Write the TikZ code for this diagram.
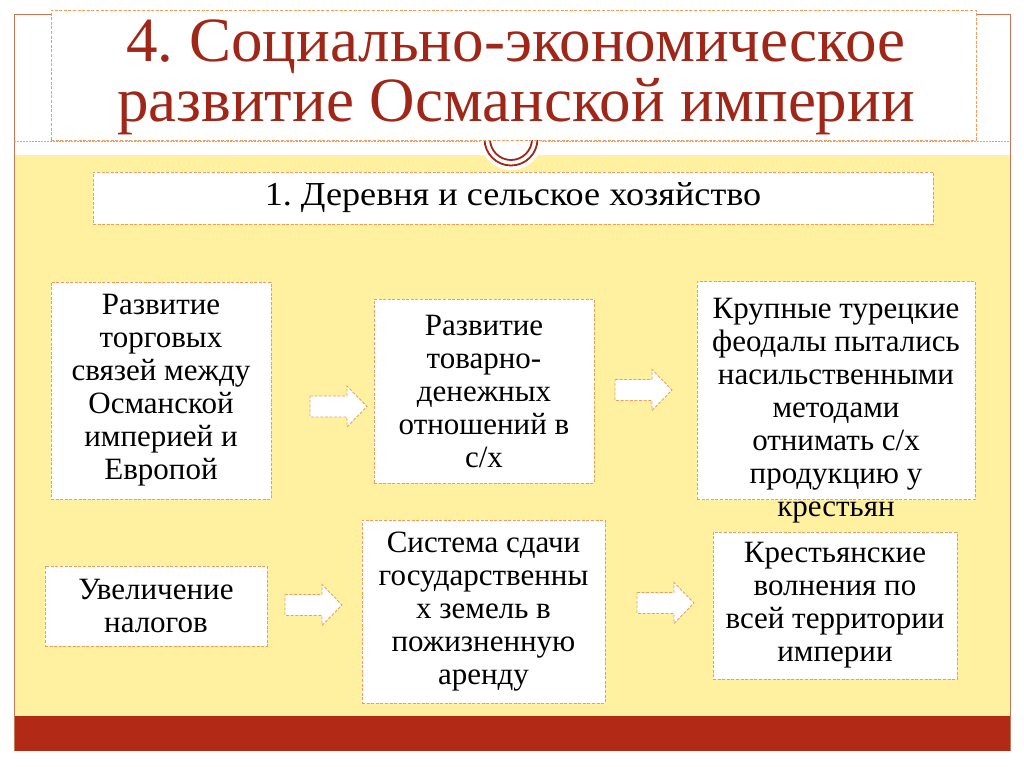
\documentclass[tikz,border=0pt]{standalone}
\usepackage{fontspec}
\setmainfont{Liberation Serif}
\newfontfamily\titlefont{Liberation Serif}
\newfontfamily\bodyfont{Liberation Serif}
\newfontfamily\subfont[FakeStretch=1.08]{Liberation Serif}
\frenchspacing
\definecolor{bgyellow}{RGB}{255,241,160}
\definecolor{stripered}{RGB}{178,42,22}
\definecolor{titlered}{RGB}{160,38,24}
\definecolor{dashorange}{RGB}{238,158,92}
\definecolor{framebrown}{RGB}{196,120,90}
\tikzset{
  dbox/.style={draw=dashorange, fill=white, line width=0.9pt, dash pattern=on 3pt off 1.6pt, inner sep=0pt},
  btext/.style={font={\bodyfont\fontsize{31}{33}\selectfont}, align=center, text=black},
  arrowbox/.style={draw=dashorange, fill=white, line width=0.9pt, dash pattern=on 3pt off 1.6pt, line join=miter},
  pics/blockarrow/.style={code={
    \draw[arrowbox] (0,-10.5) -- (37,-10.5) -- (37,-20.5) -- (57,0) -- (37,20.5) -- (37,10.5) -- (0,10.5) -- cycle;
  }}
}
\begin{document}
\begin{tikzpicture}[x=1pt,y=-1pt]
\useasboundingbox (0,0) rectangle (1024,767);
\fill[white] (0,0) rectangle (1024,767);
% background bands
\fill[bgyellow] (14,155) rectangle (1010,716);
\fill[stripered] (14,716) rectangle (1010,751);
\draw[framebrown, line width=1pt] (14,751) -- (14,15) -- (1010,15) -- (1010,751);
\draw[dashorange, line width=1pt, dash pattern=on 2pt off 1pt] (14,142) -- (1010,142);
% ornament
\fill[white] (511,139) circle (31);
\draw[titlered, line width=1.8pt] (511,139) circle (26.5);
\draw[titlered, line width=1.8pt] (511,139) circle (21);
% title
\node[dbox, minimum width=925pt, minimum height=130pt] (title) at (513.5,75) {};
\node[font={\titlefont\fontsize{63}{60}\selectfont}, text=titlered, align=center, inner sep=0pt] (titletext) at (516,77)
  {4. Социально-экономическое\\развитие Османской империи};
% subtitle
\node[dbox, minimum width=840pt, minimum height=52pt, font={\subfont\fontsize{33.5}{36}\selectfont}] (sub) at (513,198)
  {1. Деревня и сельское хозяйство};
% boxes
\node[dbox, btext, minimum width=220pt, minimum height=217pt] (A) at (161,390.5)
  {Развитие\\торговых\\связей между\\Османской\\империей и\\Европой};
\node[dbox, btext, minimum width=220pt, minimum height=184pt] (B) at (484,391)
  {Развитие\\товарно-\\денежных\\отношений в\\с/х};
\node[dbox, minimum width=278pt, minimum height=218pt] (C) at (836,390.5) {};
\node[btext, inner sep=0pt] (Ctext) at (836,411)
  {Крупные турецкие\\феодалы пытались\\насильственными\\методами\\отнимать с/х\\продукцию у\\крестьян};
\node[dbox, btext, minimum width=222pt, minimum height=80pt] (D) at (156,606)
  {Увеличение\\налогов};
\node[dbox, btext, minimum width=243pt, minimum height=183pt] (E) at (483.5,611.5)
  {Система сдачи\\государственны\\х земель в\\пожизненную\\аренду};
\node[dbox, btext, minimum width=244pt, minimum height=147pt] (F) at (835,605.5)
  {Крестьянские\\волнения по\\всей территории\\империи};
% block arrows
\coordinate (ar1) at (310,406.5);
\coordinate (ar2) at (615,390);
\coordinate (ar3) at (285,605);
\coordinate (ar4) at (637,603);
\pic at (ar1) {blockarrow};
\pic at (ar2) {blockarrow};
\pic at (ar3) {blockarrow};
\pic at (ar4) {blockarrow};
\end{tikzpicture}
\end{document}
